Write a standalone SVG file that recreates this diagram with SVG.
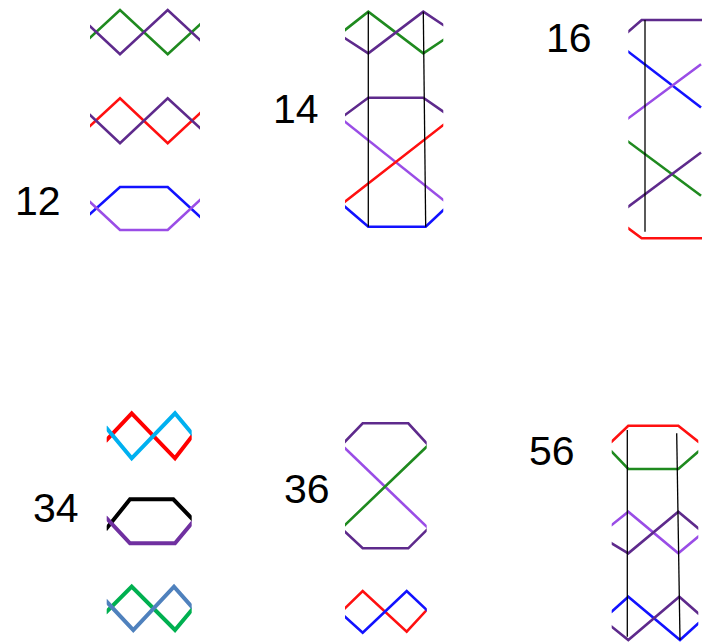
<svg xmlns="http://www.w3.org/2000/svg" width="702" height="642" viewBox="0 0 702 642">
<style>
  .l { fill: none; stroke-width: 2.6; stroke-linejoin: miter; stroke-linecap: square; }
  .t { stroke-width: 4; }
  .g { stroke: #1f8a1f; }
  .p { stroke: #5e2a8c; }
  .r { stroke: #ff1010; }
  .m { stroke: #9a4de6; }
  .b { stroke: #1212ff; }
  .k { fill: none; stroke: #000; stroke-width: 1.3; }
  .r2 { stroke: #ff0000; }
  .c2 { stroke: #00b0f0; }
  .k2 { stroke: #000; }
  .p2 { stroke: #7030a0; }
  .g2 { stroke: #00b050; }
  .s2 { stroke: #4f81bd; }
  text { font-family: "Liberation Sans", Arial, sans-serif; font-size: 41px; fill: #000; }
</style>
<defs>
  <clipPath id="c12"><rect x="90" y="0" width="110" height="250"/></clipPath>
  <clipPath id="c14"><rect x="345" y="0" width="98.3" height="250"/></clipPath>
  <clipPath id="c16"><rect x="628.3" y="0" width="74" height="250"/></clipPath>
  <clipPath id="c34"><rect x="106.7" y="400" width="85" height="242"/></clipPath>
  <clipPath id="c36"><rect x="345" y="400" width="81.7" height="242"/></clipPath>
  <clipPath id="c56"><rect x="611.7" y="400" width="86.6" height="242"/></clipPath>
</defs>
<rect width="702" height="642" fill="#fff"/>

<g id="panel-12">
  <g clip-path="url(#c12)">
    <polyline class="l g" points="90,37.7 120,10 167.7,54.3 200,24.5"/>
    <polyline class="l p" points="90,26.3 120,54.3 167.7,10 200,40"/>
    <polyline class="l r" points="90,126 120,98.3 167.7,143.3 200,113.3"/>
    <polyline class="l p" points="90,115 120,143.3 167.7,98.3 200,128"/>
    <polyline class="l b" points="90,214 120,187 167.7,187 200,216.7"/>
    <polyline class="l m" points="90,202 120,230 167.7,230 200,200"/>
  </g>
  <text x="15" y="215">12</text>
</g>

<g id="panel-14">
  <g clip-path="url(#c14)">
    <polyline class="l g" points="345,30 368.3,11.7 423.3,53.3 443.3,40"/>
    <polyline class="l p" points="345,38.3 368.3,53.3 423.3,11.7 443.3,25"/>
    <polyline class="l p" points="345,115 368.3,97.7 423.3,97.7 443.3,111.7"/>
    <polyline class="l m" points="345,121.7 443.3,200"/>
    <polyline class="l r" points="345,201.7 443.3,125"/>
    <polyline class="l b" points="345,206.7 368.3,226.7 425.7,226.7 443.3,210"/>
  </g>
  <line class="k" x1="368.3" y1="11.7" x2="368.3" y2="226.7"/>
  <line class="k" x1="423.3" y1="11.7" x2="425.7" y2="226.7"/>
  <text x="273" y="123">14</text>
</g>

<g id="panel-16">
  <g clip-path="url(#c16)">
    <polyline class="l p" points="628.3,31.7 641.7,20 702,20"/>
    <polyline class="l b" points="628.3,51.7 700,106.7"/>
    <polyline class="l m" points="628.3,118.3 700,65"/>
    <polyline class="l g" points="628.3,141.7 700,195"/>
    <polyline class="l p" points="628.3,206.7 700,153.3"/>
    <polyline class="l r" points="628.3,228.3 641.7,238.3 702,238.3"/>
  </g>
  <line class="k" x1="645" y1="20" x2="645" y2="231.7"/>
  <text x="546" y="51.7">16</text>
</g>

<g id="panel-34">
  <g clip-path="url(#c34)">
    <polyline class="l t r2" points="106.7,440 131.7,413.3 175,458.3 191.7,436.7"/>
    <polyline class="l t c2" points="106.7,428.3 131.7,458.3 175,413.3 191.7,433.3"/>
    <polyline class="l t k2" points="106.7,528.3 130,499.3 173.3,499.3 191.7,518.3"/>
    <polyline class="l t p2" points="106.7,518.3 130,543.3 175,543.3 191.7,523.3"/>
    <polyline class="l t g2" points="106.7,611.7 131.7,586.7 175,630 191.7,610"/>
    <polyline class="l t s2" points="106.7,601.7 133.3,630 174,586.7 191.7,606.7"/>
  </g>
  <text x="33" y="522">34</text>
</g>

<g id="panel-36">
  <g clip-path="url(#c36)">
    <polyline class="l p" points="345,441.7 362.7,423.3 408.3,423.3 426.7,443.3"/>
    <polyline class="l m" points="345,448.3 426.7,526.7"/>
    <polyline class="l g" points="345,525 426.7,446.7"/>
    <polyline class="l p" points="345,531.7 362.7,548.3 408.3,548.3 426.7,530"/>
    <polyline class="l r" points="345,608.3 362.7,591 406.7,631.7 426.7,610"/>
    <polyline class="l b" points="345,616.7 362.7,632.7 406.7,591 426.7,610"/>
  </g>
  <text x="284" y="503">36</text>
</g>

<g id="panel-56">
  <g clip-path="url(#c56)">
    <polyline class="l r" points="611.7,441.7 628.3,425.7 678.3,425.7 698.3,441.7"/>
    <polyline class="l g" points="611.7,451.7 628.3,469 678.3,469 698.3,451.7"/>
    <polyline class="l m" points="611.7,525 628.3,511.7 678.3,553.3 698.3,536.7"/>
    <polyline class="l p" points="611.7,543.3 628.3,553.3 678.3,511.7 698.3,528.3"/>
    <polyline class="l b" points="611.7,611.7 628.3,596.7 680,640 698.3,623.3"/>
    <polyline class="l p" points="611.7,626.7 628.3,640 679.3,596.7 698.3,613.3"/>
  </g>
  <line class="k" x1="627.3" y1="430" x2="627.3" y2="636.7"/>
  <line class="k" x1="676.7" y1="433.3" x2="680" y2="640"/>
  <text x="529" y="465">56</text>
</g>
</svg>
